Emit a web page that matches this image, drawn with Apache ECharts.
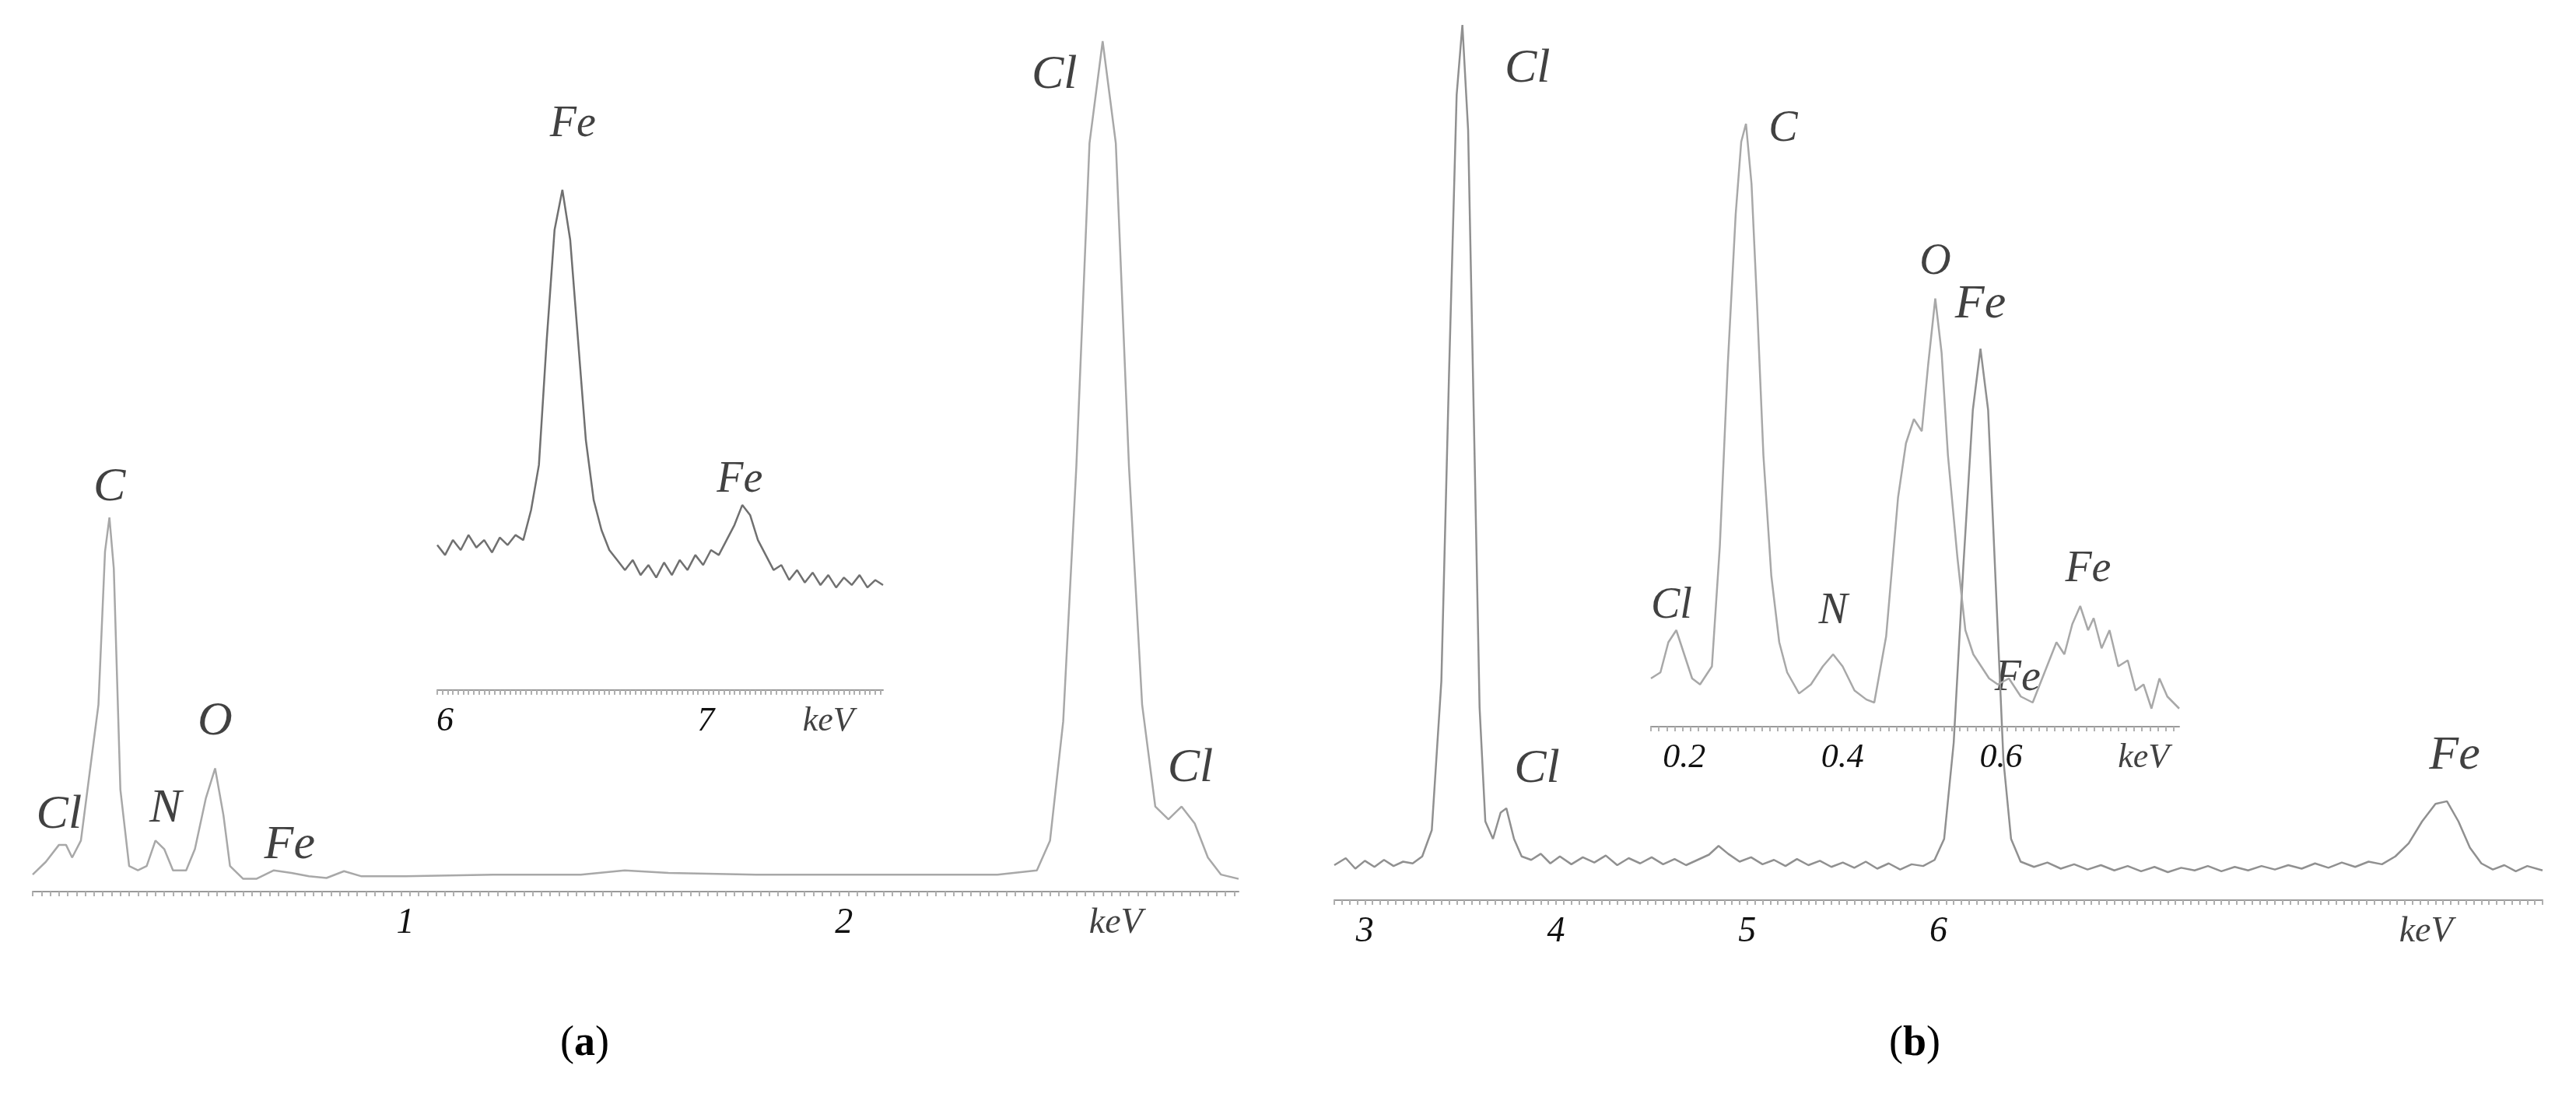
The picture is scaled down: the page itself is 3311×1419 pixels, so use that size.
<!DOCTYPE html>
<html><head><meta charset="utf-8">
<script src="https://cdn.jsdelivr.net/npm/echarts@6/dist/echarts.min.js"></script>
<style>html,body{margin:0;background:#fff}#c{width:3311px;height:1419px}</style>
</head><body><div id="c"></div>
<script>
// ---- data ----
const specA = [[0.15,2],[0.18,3.5],[0.21,5.5],[0.226,5.5],[0.24,4],[0.26,6],[0.28,14],[0.30,22],[0.315,40],[0.325,44],[0.335,38],[0.35,12],[0.37,3],[0.39,2.5],[0.41,3],[0.43,6],[0.45,5],[0.47,2.5],[0.5,2.5],[0.52,5],[0.545,11],[0.566,14.5],[0.585,9],[0.6,3],[0.63,1.5],[0.66,1.5],[0.7,2.5],[0.74,2.2],[0.78,1.8],[0.82,1.6],[0.86,2.4],[0.9,1.8],[1.0,1.8],[1.2,2],[1.4,2],[1.5,2.5],[1.6,2.2],[1.8,2],[2.0,2],[2.2,2],[2.35,2],[2.44,2.5],[2.47,6],[2.5,20],[2.53,50],[2.56,88],[2.59,100],[2.62,88],[2.65,50],[2.68,22],[2.71,10],[2.74,8.5],[2.77,10],[2.8,8],[2.83,4],[2.86,2],[2.9,1.5]];
const labelsA = [[0.21,9,'Cl'],[0.325,47.5,'C'],[0.453,9.7,'N'],[0.566,20,'O'],[0.736,5.4,'Fe'],[2.48,96,'Cl'],[2.79,14.5,'Cl']];
const ticksA = [1,2]; const unitA = 2.62;

const insetA = [[5.97,29],[6.0,27],[6.03,30],[6.06,28],[6.09,31],[6.12,28.5],[6.15,30],[6.18,27.5],[6.21,30.5],[6.24,29],[6.27,31],[6.3,30],[6.33,36],[6.36,45],[6.39,70],[6.42,92],[6.45,100],[6.48,90],[6.51,70],[6.54,50],[6.57,38],[6.6,32],[6.63,28],[6.66,26],[6.69,24],[6.72,26],[6.75,23],[6.78,25],[6.81,22.5],[6.84,25.5],[6.87,23],[6.9,26],[6.93,24],[6.96,27],[6.99,25],[7.02,28],[7.05,27],[7.08,30],[7.11,33],[7.14,37],[7.17,35],[7.2,30],[7.23,27],[7.26,24],[7.29,25],[7.32,22],[7.35,24],[7.38,21.5],[7.41,23.5],[7.44,21],[7.47,23],[7.5,20.5],[7.53,22.5],[7.56,21],[7.59,23],[7.62,20.5],[7.65,22],[7.68,21]];
const labelsInsetA = [[6.49,113,'Fe'],[7.13,42,'Fe']];
const ticksInsetA = [6,7]; const unitInsetA = 7.47;

const specB = [[2.84,4],[2.9,4.8],[2.95,3.6],[3.0,4.5],[3.05,3.8],[3.1,4.6],[3.15,3.9],[3.2,4.4],[3.25,4.2],[3.3,5],[3.35,8],[3.4,25],[3.44,60],[3.48,92],[3.51,100],[3.54,88],[3.57,55],[3.6,22],[3.63,9],[3.67,7],[3.71,10],[3.74,10.5],[3.78,7],[3.82,5],[3.87,4.6],[3.92,5.3],[3.97,4.2],[4.02,5],[4.08,4.1],[4.14,4.9],[4.2,4.3],[4.26,5.1],[4.32,4],[4.38,4.8],[4.44,4.2],[4.5,4.9],[4.56,4.1],[4.62,4.7],[4.68,4],[4.74,4.6],[4.8,5.2],[4.85,6.2],[4.9,5.3],[4.96,4.4],[5.02,4.9],[5.08,4.1],[5.14,4.6],[5.2,3.9],[5.26,4.7],[5.32,4],[5.38,4.5],[5.44,3.8],[5.5,4.3],[5.56,3.7],[5.62,4.4],[5.68,3.6],[5.74,4.2],[5.8,3.5],[5.86,4.1],[5.92,3.9],[5.98,4.6],[6.03,7],[6.08,18],[6.13,38],[6.18,56],[6.22,63],[6.26,56],[6.3,36],[6.34,16],[6.38,7],[6.43,4.4],[6.5,3.8],[6.57,4.3],[6.64,3.6],[6.71,4.1],[6.78,3.5],[6.85,4],[6.92,3.4],[6.99,3.9],[7.06,3.3],[7.13,3.8],[7.2,3.2],[7.27,3.7],[7.34,3.4],[7.41,3.9],[7.48,3.3],[7.55,3.8],[7.62,3.4],[7.69,3.9],[7.76,3.5],[7.83,4],[7.9,3.6],[7.97,4.2],[8.04,3.7],[8.11,4.3],[8.18,3.8],[8.25,4.4],[8.32,4.1],[8.39,5],[8.46,6.5],[8.53,9],[8.6,11],[8.66,11.3],[8.72,9],[8.78,6],[8.84,4.2],[8.9,3.5],[8.96,4],[9.02,3.3],[9.08,3.9],[9.16,3.4]];
const labelsB = [[3.85,95,'Cl'],[3.9,15,'Cl'],[6.22,68,'Fe'],[8.7,16.5,'Fe']];
const ticksB = [3,4,5,6]; const unitB = 8.55;

const insetB = [[0.158,8],[0.17,9],[0.18,14],[0.19,16],[0.2,12],[0.21,8],[0.22,7],[0.235,10],[0.245,30],[0.255,60],[0.265,85],[0.272,97],[0.278,100],[0.285,90],[0.292,70],[0.3,45],[0.31,25],[0.32,14],[0.33,9],[0.345,5.5],[0.36,7],[0.375,10],[0.388,12],[0.4,10],[0.415,6],[0.43,4.5],[0.44,4],[0.455,15],[0.47,38],[0.48,47],[0.49,51],[0.5,49],[0.508,60],[0.517,71],[0.525,62],[0.533,45],[0.545,28],[0.555,16],[0.565,12],[0.575,10],[0.585,8],[0.596,7],[0.61,8],[0.625,5],[0.64,4],[0.655,9],[0.67,14],[0.68,12],[0.69,17],[0.7,20],[0.71,16],[0.717,18],[0.727,13],[0.737,16],[0.748,10],[0.76,11],[0.77,6],[0.78,7],[0.79,3],[0.8,8],[0.81,5],[0.825,3]];
const labelsInsetB = [[0.184,20,'Cl'],[0.325,99,'C'],[0.388,19,'N'],[0.517,77,'O'],[0.621,8,'Fe'],[0.71,26,'Fe']];
const ticksInsetB = [0.2,0.4,0.6]; const unitInsetB = 0.78;

// ---- layout ----
const panels = [
  {spec:specA, labels:labelsA, ticks:ticksA, unit:unitA, min:0.15, max:2.9, grid:{left:42, top:53, width:1550, height:1093}, color:'#a8a8a8', dot:0.02, fs:62, tfs:46},
  {spec:insetA, labels:labelsInsetA, ticks:ticksInsetA, unit:unitInsetA, min:5.97, max:7.68, grid:{left:562, top:244, width:573, height:643}, color:'#707070', dot:0.02, fs:56, tfs:44},
  {spec:specB, labels:labelsB, ticks:ticksB, unit:unitB, min:2.84, max:9.16, grid:{left:1715, top:32, width:1553, height:1125}, color:'#909090', dot:0.04, fs:62, tfs:46},
  {spec:insetB, labels:labelsInsetB, ticks:ticksInsetB, unit:unitInsetB, min:0.158, max:0.825, grid:{left:2122, top:159, width:679, height:775}, color:'#a8a8a8', dot:0.01, fs:56, tfs:44}
];
const font = 'Liberation Serif';
const grids=[], xAxes=[], yAxes=[], series=[];
panels.forEach((p,i)=>{
  grids.push(p.grid);
  const dots=[]; for(let v=p.min; v<=p.max+1e-9; v+=p.dot) dots.push(+v.toFixed(4));
  xAxes.push({gridIndex:i, type:'value', min:p.min, max:p.max,
    axisLine:{lineStyle:{color:'#9a9a9a', width:2}},
    axisTick:{show:true, customValues:dots, length:6, inside:false, lineStyle:{color:'#b0b0b0', width:2}},
    axisLabel:{customValues:p.ticks, fontFamily:font, fontStyle:'italic', fontSize:p.tfs, color:'#111', margin:18},
    splitLine:{show:false}});
  yAxes.push({gridIndex:i, type:'value', min:0, max:100, show:false});
  series.push({type:'line', xAxisIndex:i, yAxisIndex:i, data:p.spec, showSymbol:false, smooth:false,
    lineStyle:{color:p.color, width:2.5}, silent:true});
  series.push({type:'scatter', xAxisIndex:i, yAxisIndex:i, symbolSize:0, clip:false,
    data:p.labels.map(l=>({value:[l[0],l[1]], name:l[2]})),
    label:{show:true, position:'inside', formatter:'{b}', fontFamily:font, fontStyle:'italic', fontSize:p.fs, color:'#111'}});
  series.push({type:'scatter', xAxisIndex:i, yAxisIndex:i, symbolSize:0, clip:false,
    data:[{value:[p.unit,0], name:'keV'}],
    label:{show:true, position:'bottom', distance:18, formatter:'{b}', fontFamily:font, fontStyle:'italic', fontSize:p.tfs, color:'#111'}});
});
const chart = echarts.init(document.getElementById('c'));
chart.setOption({
  animation:false, backgroundColor:'#fff',
  grid:grids, xAxis:xAxes, yAxis:yAxes, series:series,
  graphic:[
    {type:'text', left:720, top:1315, style:{text:'({a|a})', rich:{a:{fontWeight:'bold', fontFamily:font, fontSize:54}}, fontFamily:font, fontSize:54, fill:'#000'}},
    {type:'text', left:2428, top:1315, style:{text:'({a|b})', rich:{a:{fontWeight:'bold', fontFamily:font, fontSize:54}}, fontFamily:font, fontSize:54, fill:'#000'}}
  ]
});
</script></body></html>
